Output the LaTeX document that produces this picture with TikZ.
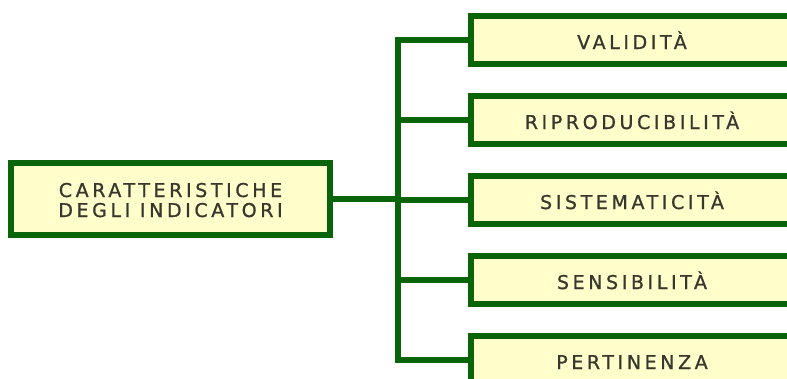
\documentclass[tikz,border=0pt]{standalone}
\usepackage{fontspec}
\newfontfamily\boxfont[LetterSpace=19,FakeBold=1]{DejaVu Sans}
\definecolor{framegreen}{RGB}{10,100,10}
\definecolor{boxfill}{RGB}{255,255,204}
\definecolor{labelgray}{RGB}{55,55,45}
\begin{document}
\begin{tikzpicture}[x=1pt,y=-1pt,
  card/.style={draw=framegreen, fill=boxfill, line width=6pt, inner sep=0pt,
    outer sep=0pt, font=\boxfont\fontsize{19}{20}\selectfont, text=labelgray},
  leaf/.style={card, minimum width=322pt, minimum height=48pt,
    text height=18pt, text depth=0pt},
  rootbox/.style={card, minimum width=319pt, minimum height=72pt, align=center,
    text height=38pt, text depth=2pt},
  link/.style={draw=framegreen, line width=6pt, line cap=butt, line join=miter}]
  \useasboundingbox (0,0) rectangle (787,378);

  % central node
  \node[rootbox] (root) at (170.5,199) {CARATTERISTICHE\\DEGLI INDICATORI};

  % the five characteristics
  \node[leaf] (v1) at (632,40)  {VALIDITÀ};
  \node[leaf] (v2) at (632,120) {RIPRODUCIBILITÀ};
  \node[leaf] (v3) at (632,200) {SISTEMATICITÀ};
  \node[leaf] (v4) at (632,280) {SENSIBILITÀ};
  \node[leaf] (v5) at (632,360) {PERTINENZA};

  % trunk of the bracket
  \coordinate (tt) at (398,40);
  \coordinate (tb) at (398,360);
  \draw[link] (v1.west) -- (tt) -- (tb) -- (v5.west);
  \draw[link] (root.east) -- (root.east -| tt);
  \foreach \n in {v2,v3,v4}
    \draw[link] (\n.west) -- (\n.west -| tt);
\end{tikzpicture}
\end{document}
